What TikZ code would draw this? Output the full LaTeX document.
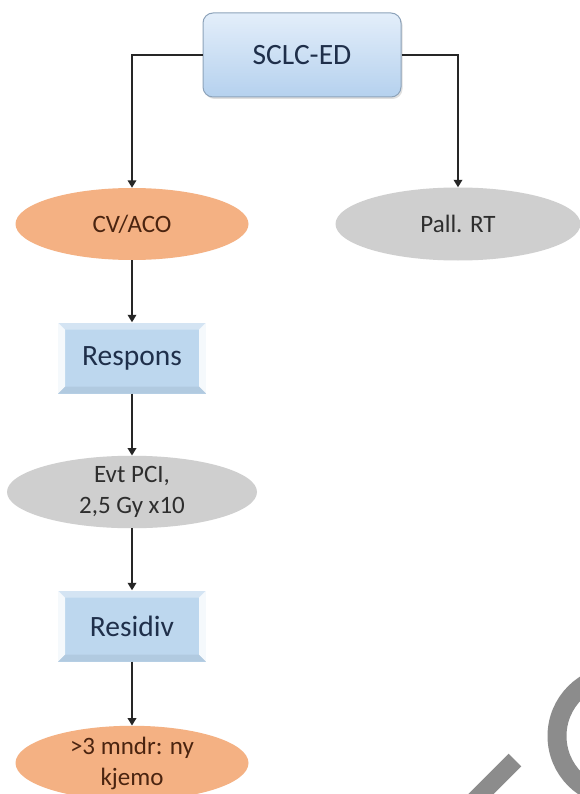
\documentclass[tikz,border=0pt]{standalone}
\usepackage{fontspec}
\setmainfont{Carlito}
\usetikzlibrary{arrows.meta,shapes.geometric,shadows}
\definecolor{orangefill}{HTML}{F4B183}
\definecolor{grayfill}{HTML}{CFCFCF}
\definecolor{bluefill}{HTML}{BDD7EE}
\definecolor{bluetop}{HTML}{E3EEFA}
\definecolor{bluebot}{HTML}{B5D1EE}
\definecolor{blueedge}{HTML}{8DA3BA}
\definecolor{navytext}{HTML}{1F2F4A}
\definecolor{browntext}{HTML}{4A2410}
\definecolor{graytext}{HTML}{2E2E2E}
\definecolor{wmgray}{HTML}{8C8C8C}
\tikzset{
  txt/.style={font=\fontsize{25}{31}\selectfont, align=center, inner sep=0pt},
  boxtxt/.style={font=\fontsize{29.5}{35}\selectfont, align=center, inner sep=0pt},
  topbox/.style={boxtxt, rectangle, rounded corners=10pt, top color=bluetop, bottom color=bluebot,
    draw=blueedge, line width=1pt, minimum width=198pt, minimum height=84pt, text=navytext,
    drop shadow={opacity=0.25, shadow xshift=1.5pt, shadow yshift=-2pt}},
  bevelbox/.style={boxtxt, rectangle, fill=bluefill, minimum width=148pt, minimum height=71pt, text=navytext,
    path picture={
      \fill[white,opacity=0.85] (path picture bounding box.north west) -- (path picture bounding box.south west)
        -- ([shift={(7pt,7pt)}]path picture bounding box.south west) -- ([shift={(7pt,-7pt)}]path picture bounding box.north west) -- cycle;
      \fill[white,opacity=0.85] (path picture bounding box.north east) -- (path picture bounding box.south east)
        -- ([shift={(-7pt,7pt)}]path picture bounding box.south east) -- ([shift={(-7pt,-7pt)}]path picture bounding box.north east) -- cycle;
      \fill[white,opacity=0.35] (path picture bounding box.north west) -- (path picture bounding box.north east)
        -- ([shift={(-7pt,-7pt)}]path picture bounding box.north east) -- ([shift={(7pt,-7pt)}]path picture bounding box.north west) -- cycle;
      \fill[black,opacity=0.06] (path picture bounding box.south west) -- (path picture bounding box.south east)
        -- ([shift={(-7pt,7pt)}]path picture bounding box.south east) -- ([shift={(7pt,7pt)}]path picture bounding box.south west) -- cycle;
    }},
  orangeell/.style={txt, ellipse, fill=orangefill, text=browntext, inner sep=0pt},
  grayell/.style={txt, ellipse, fill=grayfill, text=graytext, inner sep=0pt},
  arr/.style={draw=black!85, line width=1.8pt, -{Triangle[width=8.5pt,length=7.5pt]}},
}
\begin{document}
\begin{tikzpicture}[x=1pt,y=-1pt]
\useasboundingbox (0,0) rectangle (580,794);
\fill[white] (0,0) rectangle (580,794);

\node[topbox] (sclc) at (302,55) {SCLC-ED};
\node[orangeell, minimum width=233pt, minimum height=72pt] (cv) at (132,224) {CV/ACO};
\node[grayell, minimum width=245pt, minimum height=73pt] (pall) at (458,224) {Pall. RT};
\node[bevelbox] (resp) at (132,358) {Respons};
\node[grayell, minimum width=250pt, minimum height=72pt] (pci) at (132,492) {Evt PCI,\\2,5 Gy x10};
\node[bevelbox] (resid) at (132,626) {Residiv};
\node[orangeell, minimum width=233pt, minimum height=70pt] (kjemo) at (132,763) {>3 mndr: ny\\kjemo};

\draw[arr] (sclc.west) -| (cv.north);
\draw[arr] (sclc.east) -| (pall.north);
\draw[arr] (cv.south) -- (resp.north);
\draw[arr] (resp.south) -- (pci.north);
\draw[arr] (pci.south) -- (resid.north);
\draw[arr] (resid.south) -- (kjemo.north);

\begin{scope}
\clip (0,0) rectangle (580,794);
\draw[wmgray, line width=18pt] (515,760) -- (470,805);
\draw[wmgray, line width=19pt] (618,736) circle[radius=61];
\end{scope}
\end{tikzpicture}
\end{document}
